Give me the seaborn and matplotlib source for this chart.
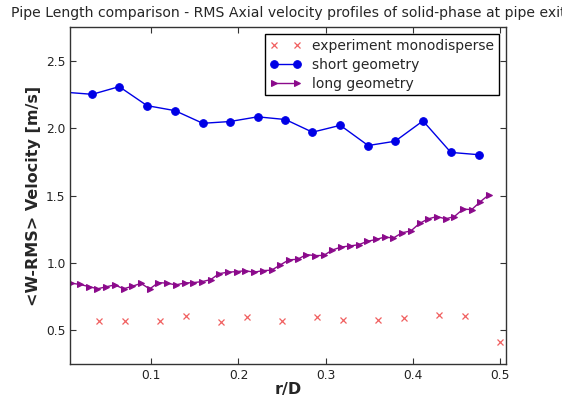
import matplotlib
matplotlib.use("Agg")
import matplotlib.pyplot as plt
import seaborn as sns
import pandas as pd

# ---- data ----
exp_r = [0.04, 0.07, 0.11, 0.14, 0.18, 0.21, 0.25, 0.29, 0.32, 0.36, 0.39, 0.43, 0.46, 0.50]
exp_w = [0.566, 0.571, 0.571, 0.608, 0.561, 0.598, 0.566, 0.596, 0.579, 0.579, 0.588, 0.613, 0.608, 0.416]

short_r = [0.0, 0.032, 0.063, 0.095, 0.127, 0.159, 0.190, 0.222, 0.254, 0.285,
           0.317, 0.349, 0.380, 0.412, 0.444, 0.476]
short_w = [2.267, 2.251, 2.308, 2.167, 2.130, 2.036, 2.049, 2.084, 2.064, 1.970,
           2.021, 1.871, 1.903, 2.054, 1.820, 1.803]

long_r = [0.008, 0.018, 0.028, 0.038, 0.048, 0.058, 0.068, 0.078, 0.088, 0.098,
          0.108, 0.118, 0.128, 0.138, 0.148, 0.158, 0.168, 0.178, 0.188, 0.198,
          0.208, 0.218, 0.228, 0.238, 0.248, 0.258, 0.268, 0.278, 0.288, 0.298,
          0.308, 0.318, 0.328, 0.338, 0.348, 0.358, 0.368, 0.378, 0.388, 0.398,
          0.408, 0.418, 0.428, 0.438, 0.448, 0.458, 0.468, 0.478, 0.488]
long_w = [0.850, 0.840, 0.825, 0.808, 0.823, 0.837, 0.808, 0.827, 0.848, 0.807,
          0.854, 0.850, 0.837, 0.851, 0.854, 0.861, 0.876, 0.921, 0.931, 0.936,
          0.942, 0.931, 0.943, 0.946, 0.985, 1.023, 1.027, 1.062, 1.054, 1.056,
          1.096, 1.118, 1.126, 1.135, 1.160, 1.174, 1.192, 1.185, 1.224, 1.237,
          1.293, 1.327, 1.344, 1.327, 1.344, 1.399, 1.396, 1.455, 1.507]

labels = ["experiment monodisperse", "short geometry", "long geometry"]
title = "Pipe Length comparison - RMS Axial velocity profiles of solid-phase at pipe exit"
xlabel = "r/D"
ylabel = "<W-RMS> Velocity [m/s]"
xticks = [0.1, 0.2, 0.3, 0.4, 0.5]
yticks = [0.5, 1.0, 1.5, 2.0, 2.5]

sns.set_style("ticks", {"xtick.direction": "in", "ytick.direction": "in",
                        "axes.edgecolor": "#333333"})
plt.rcParams["font.family"] = ["DejaVu Sans"]

fig = plt.figure(figsize=(5.62, 3.98), dpi=100)
ax = fig.add_axes([0.1254, 0.0854, 0.7744, 0.8466])

df_exp = pd.DataFrame({"r": exp_r, "w": exp_w})
df_short = pd.DataFrame({"r": short_r, "w": short_w})
df_long = pd.DataFrame({"r": long_r, "w": long_w})

exp_c = "#f06060"
short_c = "#0000e6"
long_c = "#8b0a8b"

sns.lineplot(data=df_exp, x="r", y="w", ax=ax, color=exp_c, linestyle="none",
             marker="x", markersize=5, markeredgewidth=0.9,
             markeredgecolor=exp_c, label=labels[0])
sns.lineplot(data=df_short, x="r", y="w", ax=ax, color=short_c, linewidth=1,
             marker="o", markersize=5.5, markeredgecolor=short_c, label=labels[1])
sns.lineplot(data=df_long, x="r", y="w", ax=ax, color=long_c, linewidth=1,
             marker=">", markersize=5, markeredgecolor=long_c, label=labels[2])

ax.set_xlim(0.007, 0.507)
ax.set_ylim(0.25, 2.75)
ax.set_xticks(xticks)
ax.set_yticks(yticks)
ax.set_xticklabels([f"{t:.1f}" for t in xticks])
ax.set_yticklabels([f"{t:.1f}" for t in yticks])
ax.tick_params(top=True, right=True, labelsize=8.8, length=4, width=0.8,
               colors="#333333", labelcolor="#222222")
for s in ax.spines.values():
    s.set_linewidth(1.0)

ax.set_xlabel(xlabel, fontsize=11.5, fontweight="bold", labelpad=0)
ax.set_ylabel(ylabel, fontsize=11.5, fontweight="bold", labelpad=4)
ax.set_title(title, fontsize=10.1, pad=7)

leg = ax.legend(loc="upper right", numpoints=2, fontsize=10, fancybox=False,
                framealpha=1, edgecolor="black", borderpad=0.35,
                labelspacing=0.35, handlelength=2.2, borderaxespad=0.5)
leg.get_frame().set_linewidth(1.0)

fig.savefig("out.png", dpi=100)
